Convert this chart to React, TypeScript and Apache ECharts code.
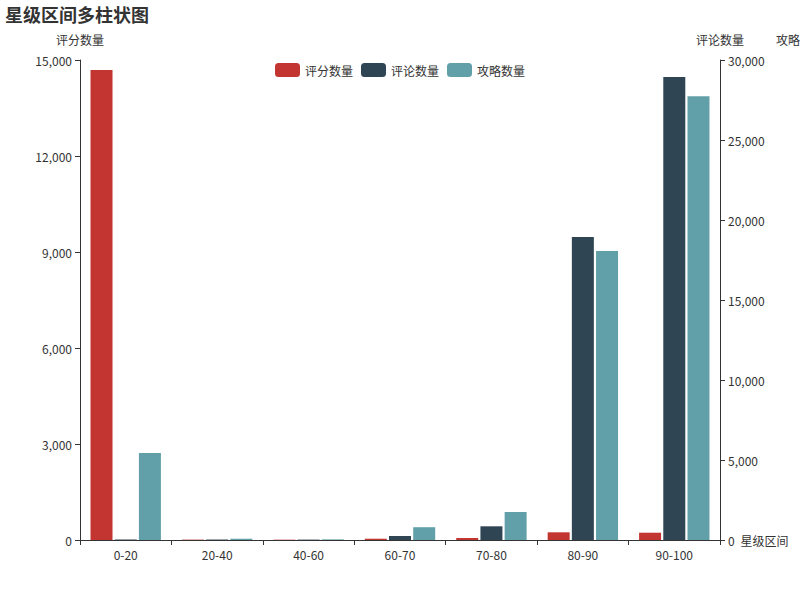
import React, { useEffect, useRef } from "react";
import * as echarts from "echarts";

const categories = ["0-20", "20-40", "40-60", "60-70", "70-80", "80-90", "90-100"];
const scoreCounts = [14690, 12, 10, 40, 62, 240, 228];
const commentCounts = [25, 30, 25, 250, 856, 18940, 28940];
const guideCounts = [2720, 40, 20, 400, 875, 9030, 13870];
const leftTicks = { min: 0, max: 15000, interval: 3000 };
const rightTicks = { min: 0, max: 30000, interval: 5000 };
const thirdTicks = { min: 0, max: 15000, interval: 3000 };

const FONT = "'Microsoft YaHei', 'Noto Sans CJK SC', sans-serif";
const AXIS_COLOR = "#333";

export default function App() {
  const ref = useRef<HTMLDivElement>(null);
  useEffect(() => {
    if (!ref.current) return;
    const chart = echarts.init(ref.current, undefined, { renderer: "svg" });
    const yBase = (name: string, ticks: any, position: string, offset: number, showLabels = true) => ({
      type: "value",
      name,
      position,
      offset,
      min: ticks.min,
      max: ticks.max,
      interval: ticks.interval,
      nameTextStyle: { color: AXIS_COLOR, fontSize: 12, fontFamily: FONT },
      axisLine: { show: true, lineStyle: { color: AXIS_COLOR } },
      axisTick: { show: showLabels, lineStyle: { color: AXIS_COLOR } },
      axisLabel: { show: showLabels, color: AXIS_COLOR, fontSize: 12, fontFamily: FONT },
      splitLine: { show: false },
    });
    chart.setOption({
      animation: false,
      color: ["#c23531", "#2f4554", "#61a0a8"],
      textStyle: { fontFamily: FONT },
      title: {
        text: "星级区间多柱状图",
        left: 5,
        top: 5,
        padding: 0,
        textStyle: { fontSize: 18, fontWeight: "bold", color: "#333", fontFamily: FONT },
      },
      legend: {
        top: 58,
        left: "center",
        itemWidth: 25,
        itemHeight: 14,
        textStyle: { color: "#333", fontSize: 12, fontFamily: FONT },
        data: ["评分数量", "评论数量", "攻略数量"],
      },
      grid: { left: 80, right: 80, top: 60, bottom: 60, containLabel: false, outerBoundsMode: "none" },
      xAxis: {
        type: "category",
        data: categories,
        name: "星级区间",
        nameGap: 10,
        nameTextStyle: { color: AXIS_COLOR, fontSize: 12, fontFamily: FONT },
        axisLine: { show: true, lineStyle: { color: AXIS_COLOR } },
        axisTick: { show: true, lineStyle: { color: AXIS_COLOR } },
        axisLabel: { color: AXIS_COLOR, fontSize: 12, fontFamily: FONT },
        splitLine: { show: false },
      },
      yAxis: [
        yBase("评分数量", leftTicks, "left", 0),
        yBase("评论数量", rightTicks, "right", 0),
        yBase("攻略数量", thirdTicks, "right", 80, false),
      ],
      series: [
        { name: "评分数量", type: "bar", yAxisIndex: 0, data: scoreCounts },
        { name: "评论数量", type: "bar", yAxisIndex: 1, data: commentCounts },
        { name: "攻略数量", type: "bar", yAxisIndex: 2, data: guideCounts },
      ],
    });
    return () => chart.dispose();
  }, []);
  return (
    <div
      ref={ref}
      style={{ position: "absolute", left: 0, top: 0, width: 800, height: 600, overflow: "hidden" }}
    />
  );
}
